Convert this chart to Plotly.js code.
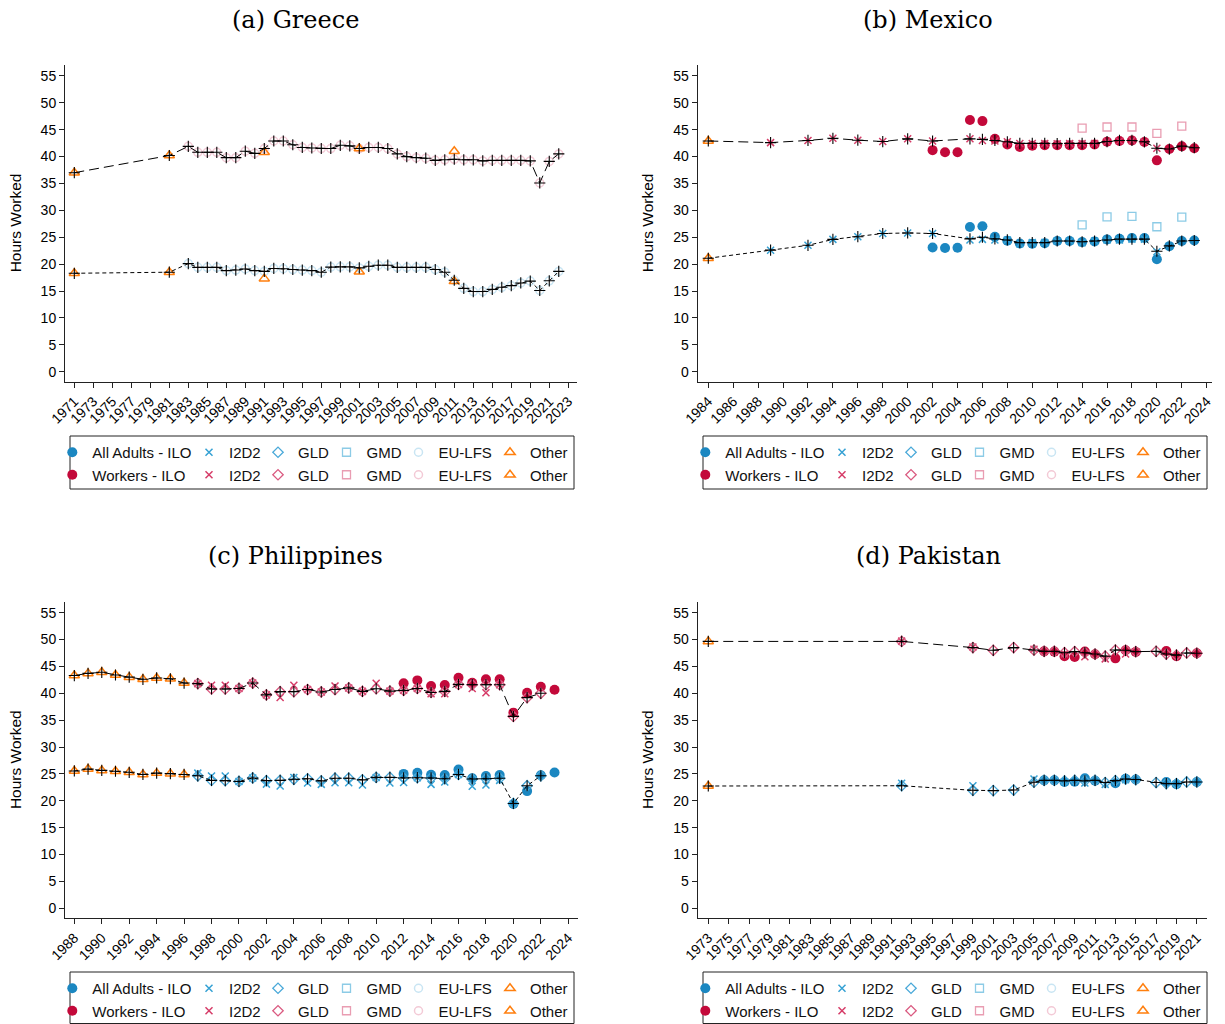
<!DOCTYPE html>
<html><head><meta charset="utf-8">
<script src="https://cdn.plot.ly/plotly-3.0.1.min.js"></script>
<style>html,body{margin:0;padding:0;background:#fff}</style>
</head><body>
<div id="chart" style="width:1225px;height:1024px"></div>
<script>
// ================= DATA =================
// ---- (a) Greece ----
const grLineYears   = [1971,1981,1983,1984,1985,1986,1987,1988,1989,1990,1991,1992,1993,1994,1995,1996,1997,1998,1999,2000,2001,2002,2003,2004,2005,2006,2007,2008,2009,2010,2011,2012,2013,2014,2015,2016,2017,2018,2019,2020,2021,2022];
const grLineWorkers = [37.0,40.2,41.9,40.8,40.8,40.8,39.8,39.8,41.0,40.6,41.5,42.9,42.9,42.2,41.7,41.6,41.5,41.5,42.1,42.0,41.5,41.7,41.7,41.5,40.5,40.0,39.8,39.7,39.3,39.4,39.5,39.4,39.4,39.2,39.3,39.3,39.3,39.3,39.2,35.1,39.1,40.5];
const grLineAdults  = [18.3,18.5,20.1,19.4,19.4,19.4,18.8,18.9,19.1,18.8,18.65,19.2,19.15,19.0,18.9,18.8,18.5,19.45,19.5,19.5,19.3,19.6,19.8,19.8,19.4,19.4,19.4,19.4,19.0,18.5,17.0,15.5,14.9,14.9,15.3,15.7,16.0,16.5,16.85,15.1,16.9,18.65];
const grEulfsYears   = [1983,1984,1985,1986,1987,1988,1989,1990,1991,1992,1993,1994,1995,1996,1997,1998,1999,2000,2001,2002,2003,2004,2005,2006,2007,2008,2009,2010,2011,2012,2013,2014,2015,2016,2017,2018,2019,2020,2021,2022];
const grEulfsWorkers = [41.9,40.8,40.8,40.8,39.8,39.8,41.0,40.6,41.5,42.9,42.9,42.2,41.7,41.6,41.5,41.5,42.1,42.0,41.5,41.7,41.7,41.5,40.5,40.0,39.8,39.7,39.3,39.4,39.5,39.4,39.4,39.2,39.3,39.3,39.3,39.3,39.2,35.1,39.1,40.5];
const grEulfsAdults  = [20.1,19.4,19.4,19.4,18.8,18.9,19.1,18.8,18.65,19.2,19.15,19.0,18.9,18.8,18.5,19.45,19.5,19.5,19.3,19.6,19.8,19.8,19.4,19.4,19.4,19.4,19.0,18.5,17.0,15.5,14.9,14.9,15.3,15.7,16.0,16.5,16.85,15.1,16.9,18.65];
const grOtherYears   = [1971,1981,1991,2001,2011];
const grOtherWorkers = [37.0,40.2,40.8,41.5,41.0];
const grOtherAdults  = [18.3,18.5,17.3,18.6,16.8];

// ---- (b) Mexico ----
const mxLineYears   = [1984,1989,1992,1994,1996,1998,2000,2002,2005,2006,2007,2008,2009,2010,2011,2012,2013,2014,2015,2016,2017,2018,2019,2020,2021,2022,2023];
const mxLineWorkers = [42.9,42.6,43.0,43.4,43.05,42.8,43.3,42.9,43.3,43.2,43.0,42.75,42.45,42.45,42.45,42.4,42.45,42.45,42.45,42.8,43.0,43.0,42.75,41.55,41.4,41.95,41.65];
const mxLineAdults  = [21.1,22.6,23.5,24.6,25.1,25.7,25.8,25.7,24.7,25.0,24.7,24.5,24.0,24.0,24.0,24.3,24.3,24.15,24.3,24.5,24.65,24.65,24.65,22.4,23.4,24.3,24.4];
const mxIloYears    = [2002,2003,2004,2005,2006,2007,2008,2009,2010,2011,2012,2013,2014,2015,2016,2017,2018,2019,2020,2021,2022,2023];
const mxIloWorkers  = [41.2,40.8,40.8,46.8,46.6,43.3,42.25,41.8,42.0,42.1,42.1,42.1,42.1,42.25,42.75,42.9,43.0,42.7,39.3,41.4,41.9,41.55];
const mxIloAdults   = [23.1,23.0,23.05,26.9,27.05,25.1,24.35,23.85,23.8,23.9,24.3,24.3,24.1,24.2,24.6,24.7,24.85,24.85,20.9,23.35,24.3,24.4];
const mxI2d2Years   = [1989,1992,1994,1996,1998,2000,2002,2005,2006,2007,2008,2009,2010,2011,2012,2013,2014,2015,2016,2017,2018,2019,2020];
const mxI2d2Workers = [42.6,43.0,43.4,43.05,42.8,43.3,42.9,43.3,43.0,42.9,42.75,42.45,42.45,42.45,42.4,42.45,42.45,42.45,42.8,42.9,43.0,42.75,41.55];
const mxI2d2Adults  = [22.6,23.5,24.6,25.1,25.7,25.8,25.7,24.5,24.6,24.5,24.5,23.8,24.0,24.0,24.3,24.3,24.0,24.3,24.5,24.5,24.65,24.65,22.3];
const mxGmdYears    = [2014,2016,2018,2020,2022];
const mxGmdWorkers  = [45.3,45.5,45.5,44.3,45.65];
const mxGmdAdults   = [27.3,28.8,28.9,26.95,28.75];
const mxOtherYears  = [1984];
const mxOtherWorkers= [42.9];
const mxOtherAdults = [21.1];

// ---- (c) Philippines ----
const phLineYears   = [1988,1989,1990,1991,1992,1993,1994,1995,1996,1997,1998,1999,2000,2001,2002,2003,2004,2005,2006,2007,2008,2009,2010,2011,2012,2013,2014,2015,2016,2017,2018,2019,2020,2021,2022];
const phLineWorkers = [43.3,43.7,43.9,43.4,43.0,42.6,42.85,42.7,41.9,41.8,40.8,40.8,40.9,41.9,39.7,40.3,40.3,40.7,40.25,40.7,41.0,40.35,40.85,40.4,40.55,40.9,40.15,40.35,41.65,41.6,41.6,41.6,35.7,39.2,40.0];
const phLineAdults  = [25.55,25.9,25.65,25.5,25.3,24.9,25.15,25.05,24.9,24.65,23.8,23.75,23.6,24.25,23.75,23.8,24.0,24.1,23.7,24.2,24.2,23.9,24.35,24.35,24.25,24.3,24.25,24.1,24.9,24.05,24.1,24.2,19.5,22.8,24.65];
const phIloYears    = [2012,2013,2014,2015,2016,2017,2018,2019,2020,2021,2022,2023];
const phIloWorkers  = [41.85,42.4,41.35,41.55,42.9,41.95,42.6,42.6,36.4,40.1,41.2,40.65];
const phIloAdults   = [25.0,25.2,24.85,24.8,25.8,24.2,24.6,24.8,19.4,21.8,24.75,25.25];
const phI2d2Years   = [1997,1998,1999,2000,2001,2002,2003,2004,2005,2006,2007,2008,2009,2010,2011,2012,2013,2014,2015,2016,2017,2018,2019];
const phI2d2Workers = [41.8,41.5,41.5,40.9,41.9,39.7,39.2,41.5,40.7,40.25,41.35,41.0,40.35,41.85,40.4,40.55,40.9,39.9,39.9,41.65,40.9,40.1,41.6];
const phI2d2Adults  = [25.15,24.6,24.6,23.6,24.25,23.1,22.75,24.35,23.3,23.05,23.35,23.35,22.95,24.35,23.3,23.4,24.3,23.05,23.5,24.9,22.7,22.95,23.8];
const phGldYears    = [1997,1998,1999,2000,2001,2002,2003,2004,2005,2006,2007,2008,2009,2010,2011,2012,2013,2014,2015,2016,2017,2018,2019,2020,2021,2022];
const phGldWorkers  = [41.8,40.8,40.8,40.9,41.9,39.7,40.3,40.3,40.7,40.25,40.7,41.0,40.35,40.85,40.4,40.55,40.9,40.15,40.35,41.65,41.6,41.6,41.6,35.7,39.2,40.0];
const phGldAdults   = [24.65,23.8,23.75,23.6,24.25,23.75,23.8,24.0,24.1,23.7,24.2,24.2,23.9,24.35,24.35,24.25,24.3,24.25,24.1,24.9,24.05,24.1,24.2,19.5,22.8,24.65];
const phOtherYears  = [1988,1989,1990,1991,1992,1993,1994,1995,1996];
const phOtherWorkers= [43.3,43.7,43.9,43.4,43.0,42.6,42.85,42.7,41.9];
const phOtherAdults = [25.55,25.9,25.65,25.5,25.3,24.9,25.15,25.05,24.9];

// ---- (d) Pakistan ----
const pkLineYears   = [1973,1992,1999,2001,2003,2005,2006,2007,2008,2009,2010,2011,2012,2013,2014,2015,2017,2018,2019,2020,2021];
const pkLineWorkers = [49.65,49.65,48.5,48.0,48.5,48.05,47.8,47.8,47.55,47.75,47.55,47.3,46.9,48.05,48.0,47.75,47.8,47.3,47.1,47.5,47.45];
const pkLineAdults  = [22.75,22.8,21.95,21.9,22.0,23.45,23.8,23.8,23.7,23.8,23.7,23.8,23.4,23.75,24.05,23.95,23.4,23.2,23.2,23.5,23.5];
const pkIloYears    = [2006,2007,2008,2009,2010,2011,2013,2014,2015,2018,2019,2021];
const pkIloWorkers  = [47.8,47.75,46.9,46.75,47.75,47.25,46.5,48.0,47.7,47.85,46.9,47.45];
const pkIloAdults   = [23.8,23.8,23.5,23.55,24.2,23.75,23.25,24.1,23.95,23.5,23.1,23.5];
const pkI2d2Years   = [1992,1999,2005,2008,2010,2012,2014];
const pkI2d2Workers = [49.7,48.6,48.2,47.3,46.8,46.4,47.3];
const pkI2d2Adults  = [23.25,22.8,24.05,23.5,23.3,23.05,23.9];
const pkGldYears    = [1992,1999,2001,2003,2005,2006,2007,2008,2009,2010,2011,2012,2013,2014,2015,2017,2018,2019,2020,2021];
const pkGldWorkers  = [49.65,48.5,48.0,48.5,48.05,47.8,47.8,47.55,47.75,47.55,47.3,46.9,48.05,48.0,47.75,47.8,47.3,47.1,47.5,47.45];
const pkGldAdults   = [22.8,21.95,21.9,22.0,23.45,23.8,23.8,23.7,23.8,23.7,23.8,23.4,23.75,24.05,23.95,23.4,23.2,23.2,23.5,23.5];
const pkOtherYears  = [1973];
const pkOtherWorkers= [49.65];
const pkOtherAdults = [22.75];

const yTickVals = [0,5,10,15,20,25,30,35,40,45,50,55];
const seriesNames = ['ILO','I2D2','GLD','GMD','EU-LFS','Other'];
const panelTitles = ['(a) Greece','(b) Mexico','(c) Philippines','(d) Pakistan'];
const yAxisTitle = 'Hours Worked';

// ================= BUILD =================
const W = 1225, H = 1024;
// a series with no observations in a panel: one missing value keeps its legend entry
const E = [[null],[null],[null]];
const panels = [
  {line:[grLineYears,grLineAdults,grLineWorkers],
   series:[E,E,E,E,[grEulfsYears,grEulfsAdults,grEulfsWorkers],[grOtherYears,grOtherAdults,grOtherWorkers]]},
  {line:[mxLineYears,mxLineAdults,mxLineWorkers],
   series:[[mxIloYears,mxIloAdults,mxIloWorkers],[mxI2d2Years,mxI2d2Adults,mxI2d2Workers],E,[mxGmdYears,mxGmdAdults,mxGmdWorkers],E,[mxOtherYears,mxOtherAdults,mxOtherWorkers]]},
  {line:[phLineYears,phLineAdults,phLineWorkers],
   series:[[phIloYears,phIloAdults,phIloWorkers],[phI2d2Years,phI2d2Adults,phI2d2Workers],[phGldYears,phGldAdults,phGldWorkers],E,E,[phOtherYears,phOtherAdults,phOtherWorkers]]},
  {line:[pkLineYears,pkLineAdults,pkLineWorkers],
   series:[[pkIloYears,pkIloAdults,pkIloWorkers],[pkI2d2Years,pkI2d2Adults,pkI2d2Workers],[pkGldYears,pkGldAdults,pkGldWorkers],E,E,[pkOtherYears,pkOtherAdults,pkOtherWorkers]]}
];

// geometry (pixels)
const geo = [
  {x0:65,   x1:577,    yb:381.7, yt:65,    xr:[1970.02,2023.92], t0:1971, yr:[-1.86,57.03], tx:295, ty:20,  bx:70,  row1:452, by:[436,489], yx:15},
  {x0:697.7,x1:1211.7, yb:381.7, yt:65,    xr:[1983.15,2024.40], t0:1984, yr:[-1.86,57.03], tx:928, ty:20,  bx:703, row1:452, by:[436,489], yx:647},
  {x0:65,   x1:578,    yb:918.3, yt:601.9, xr:[1987.32,2024.71], t0:1988, yr:[-1.86,57.0],  tx:295, ty:556, bx:70,  row1:988, by:[972,1023.5], yx:15},
  {x0:697.7,x1:1207,   yb:918.3, yt:601.9, xr:[1971.96,2022.0],  t0:1973, yr:[-1.86,57.0],  tx:928, ty:556, bx:703, row1:988, by:[972,1023.5], yx:647}
];
const colOff = [22.3,159,228,296.5,368.5,460];

const styles = [
  {a:{symbol:'circle',size:10,color:'#1b87c1'}, w:{symbol:'circle',size:10,color:'#c3093a'}},
  {a:{symbol:'x-thin',size:7,color:'#35a1d4',line:{width:1.5,color:'#35a1d4'}}, w:{symbol:'x-thin',size:7,color:'#d63c68',line:{width:1.5,color:'#d63c68'}}},
  {a:{symbol:'diamond-open',size:8,color:'#4aa9d9',line:{width:1.3}}, w:{symbol:'diamond-open',size:8,color:'#da5a80',line:{width:1.3}}},
  {a:{symbol:'square-open',size:8,color:'#8ccbe6',line:{width:1.3}}, w:{symbol:'square-open',size:8,color:'#e99db2',line:{width:1.3}}},
  {a:{symbol:'circle-open',size:8,color:'#c9e5f3',line:{width:1.5}}, w:{symbol:'circle-open',size:8,color:'#f3cad6',line:{width:1.5}}},
  {a:{symbol:'triangle-up-open',size:9,color:'#ff7f0e',line:{width:1.5}}, w:{symbol:'triangle-up-open',size:9,color:'#ff7f0e',line:{width:1.5}}}
];

const FONT = 'Liberation Sans, Arial, sans-serif';
const traces = [];
const layout = {
  width:W, height:H, margin:{l:0,r:0,t:0,b:0,autoexpand:false},
  paper_bgcolor:'#fff', plot_bgcolor:'#fff', showlegend:true,
  font:{family:FONT, color:'#000'},
  annotations:[], shapes:[]
};

panels.forEach((p, k) => {
  const g = geo[k];
  const xn = k === 0 ? 'x' : 'x' + (k+1);
  const yn = k === 0 ? 'y' : 'y' + (k+1);
  const xk = k === 0 ? 'xaxis' : 'xaxis' + (k+1);
  const yk = k === 0 ? 'yaxis' : 'yaxis' + (k+1);
  layout[xk] = {
    domain:[g.x0/W, g.x1/W], range:g.xr, anchor:yn,
    tickmode:'linear', tick0:g.t0, dtick:2, tickangle:-45,
    ticks:'outside', ticklen:5, tickwidth:1, tickcolor:'#222',
    showline:true, linecolor:'#222', linewidth:1, mirror:false,
    showgrid:false, zeroline:false,
    tickfont:{family:FONT, size:14, color:'#000'}
  };
  layout[yk] = {
    domain:[1-g.yb/H, 1-g.yt/H], range:g.yr, anchor:xn,
    tickmode:'array', tickvals:yTickVals,
    ticks:'outside', ticklen:5, tickwidth:1, tickcolor:'#222',
    showline:true, linecolor:'#222', linewidth:1,
    showgrid:false, zeroline:false,
    tickfont:{family:FONT, size:14, color:'#000'}
  };
  p.series.forEach((s, j) => {
    const lid = (k*6 + j) === 0 ? 'legend' : 'legend' + (k*6 + j + 1);
    const nameA = j === 0 ? 'All Adults - ILO' : seriesNames[j];
    const nameW = j === 0 ? 'Workers - ILO' : seriesNames[j];
    traces.push({type:'scatter', mode:'markers', x:s[0], y:s[1], xaxis:xn, yaxis:yn,
      name:nameA, legend:lid, marker:styles[j].a, hoverinfo:'skip', cliponaxis:false});
    traces.push({type:'scatter', mode:'markers', x:s[0], y:s[2], xaxis:xn, yaxis:yn,
      name:nameW, legend:lid, marker:styles[j].w, hoverinfo:'skip', cliponaxis:false});
    layout[lid] = {
      x:(g.bx + colOff[j] - 40)/W, xanchor:'left',
      y:1 - (g.row1 - 16)/H, yanchor:'top',
      orientation:'v', bgcolor:'rgba(0,0,0,0)', borderwidth:0,
      tracegroupgap:0, itemclick:false, itemdoubleclick:false,
      font:{family:FONT, size:15, color:'#111'}
    };
  });
  const plus = {symbol:'cross-thin', size:8, color:'#000', line:{width:1.1, color:'#000'}};
  traces.push({type:'scatter', mode:'lines+markers', x:p.line[0], y:p.line[2], xaxis:xn, yaxis:yn,
    showlegend:false, line:{color:'#000', width:1, dash:'10px,5px'}, marker:plus, hoverinfo:'skip'});
  traces.push({type:'scatter', mode:'lines+markers', x:p.line[0], y:p.line[1], xaxis:xn, yaxis:yn,
    showlegend:false, line:{color:'#000', width:1, dash:'4px,3px'}, marker:plus, hoverinfo:'skip'});
  layout.annotations.push({text:panelTitles[k], xref:'paper', yref:'paper', x:g.tx/W, y:1-g.ty/H,
    xanchor:'center', yanchor:'middle', showarrow:false,
    font:{family:'DejaVu Serif, serif', size:24, color:'#000'}});
  // y-axis title
  layout.annotations.push({text:yAxisTitle, xref:'paper', yref:'paper', x:g.yx/W, y:1-((g.yb - 10 + g.yt + 10)/2)/H,
    xanchor:'center', yanchor:'middle', textangle:-90, showarrow:false,
    font:{family:FONT, size:15.5, color:'#000'}});
  layout.shapes.push({type:'rect', xref:'paper', yref:'paper',
    x0:g.bx/W, x1:(g.bx+504)/W, y0:1-g.by[1]/H, y1:1-g.by[0]/H,
    line:{color:'#222', width:1}, fillcolor:'rgba(0,0,0,0)'});
});

Plotly.newPlot('chart', traces, layout, {staticPlot:true, displayModeBar:false});
</script>
</body></html>
